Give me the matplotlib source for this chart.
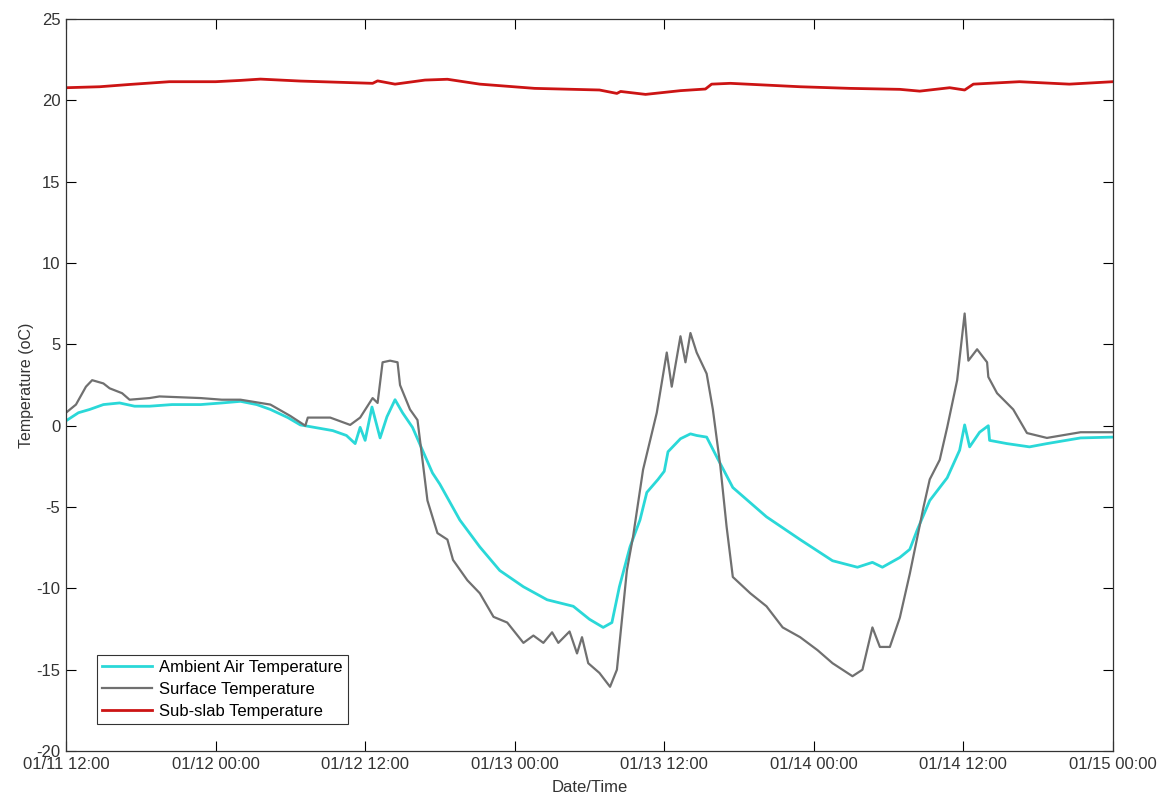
import matplotlib
matplotlib.use("Agg")
import matplotlib.pyplot as plt

plt.rcParams['font.family'] = ['Liberation Sans', 'DejaVu Sans']
plt.rcParams['axes.unicode_minus'] = False

# hours since 01/11 12:00
ambient_h = [0.0, 1.0, 1.9, 3.0, 4.3, 5.5, 6.7, 8.5, 10.8, 12.5, 14.0, 15.3, 16.4, 17.8,
             18.8, 21.4, 22.5, 23.2, 23.6, 24.0, 24.55, 25.2, 25.75, 26.4, 27.0, 27.8,
             28.6, 29.4, 30.0, 31.6, 33.2, 34.8, 36.7, 38.6, 40.7, 42.0, 43.1, 43.8,
             44.4, 45.25, 46.05, 46.6, 47.5, 48.0, 48.3, 49.3, 50.1, 50.6, 51.4, 52.2,
             53.5, 56.2, 58.9, 61.5, 63.5, 64.7, 65.5, 66.9, 67.7, 68.3, 69.3, 70.7,
             71.7, 72.1, 72.5, 73.3, 74.0, 74.1, 75.5, 77.3, 78.7, 81.4, 84.0]
ambient_t = [0.3, 0.8, 1.0, 1.3, 1.4, 1.2, 1.2, 1.3, 1.3, 1.4, 1.5, 1.3, 1.0, 0.5,
             0.05, -0.3, -0.6, -1.1, -0.1, -0.9, 1.15, -0.75, 0.55, 1.6, 0.8, -0.1,
             -1.5, -2.9, -3.6, -5.8, -7.45, -8.9, -9.9, -10.7, -11.1, -11.9, -12.4, -12.1,
             -9.9, -7.45, -5.8, -4.1, -3.3, -2.8, -1.6, -0.8, -0.5, -0.6, -0.7, -1.9,
             -3.8, -5.6, -7.0, -8.3, -8.7, -8.4, -8.7, -8.1, -7.6, -6.4, -4.6, -3.2,
             -1.5, 0.05, -1.3, -0.4, 0.0, -0.9, -1.1, -1.3, -1.1, -0.75, -0.7]

surface_h = [0.0, 0.8, 1.6, 2.1, 3.0, 3.5, 4.5, 5.1, 6.7, 7.5, 10.8, 12.5, 14.0, 16.4,
             18.0, 19.2, 19.4, 21.2, 22.8, 23.6, 24.6, 25.0, 25.4, 26.0, 26.6, 26.8,
             27.6, 28.2, 28.6, 29.0, 29.8, 30.6, 31.05, 32.2, 33.2, 34.3, 35.4, 36.7,
             37.5, 38.3, 39.0, 39.5, 40.4, 41.0, 41.4, 41.9, 42.8, 43.65, 44.2, 45.0,
             45.5, 46.3, 47.4, 48.2, 48.6, 49.3, 49.7, 50.1, 50.6, 51.4, 51.9, 52.5,
             53.0, 53.5, 54.9, 56.2, 57.5, 58.9, 60.3, 61.5, 63.1, 63.9, 64.7, 65.3,
             66.1, 66.9, 67.7, 68.8, 69.3, 70.1, 70.7, 71.5, 72.1, 72.4, 73.1, 73.9,
             74.0, 74.7, 76.0, 77.1, 78.7, 81.4, 84.0]
surface_t = [0.8, 1.3, 2.4, 2.8, 2.6, 2.3, 2.0, 1.6, 1.7, 1.8, 1.7, 1.6, 1.6, 1.3,
             0.6, 0.0, 0.5, 0.5, 0.05, 0.5, 1.7, 1.4, 3.9, 4.0, 3.9, 2.5,
             1.0, 0.35, -2.1, -4.6, -6.6, -7.0, -8.25, -9.5, -10.3, -11.75, -12.1, -13.35,
             -12.9, -13.35, -12.7, -13.35, -12.65, -14.0, -13.0, -14.6, -15.2, -16.05, -15.0, -8.9,
             -6.8, -2.7, 0.8, 4.5, 2.4, 5.5, 3.9, 5.7, 4.5, 3.2, 1.0, -2.5,
             -6.2, -9.3, -10.3, -11.1, -12.4, -13.0, -13.8, -14.6, -15.4, -15.0, -12.4, -13.6,
             -13.6, -11.8, -9.1, -5.0, -3.3, -2.1, -0.1, 2.8, 6.9, 4.0, 4.7, 3.9,
             3.0, 2.0, 1.0, -0.45, -0.75, -0.4, -0.4]

subslab_h = [0.0, 2.7, 5.1, 8.3, 12.0, 14.0, 15.6, 18.8, 24.6, 25.0, 26.4, 28.8, 30.6,
             33.2, 37.6, 42.8, 44.2, 44.5, 46.5, 49.3, 51.3, 51.8, 53.3, 58.9, 62.9,
             66.9, 68.5, 70.9, 72.1, 72.8, 75.0, 76.5, 80.5, 84.0]
subslab_t = [20.78, 20.84, 20.98, 21.15, 21.15, 21.23, 21.31, 21.19, 21.05, 21.2, 21.0, 21.25, 21.3,
             21.0, 20.74, 20.64, 20.43, 20.55, 20.37, 20.6, 20.7, 21.0, 21.05, 20.84, 20.74,
             20.68, 20.57, 20.78, 20.64, 21.0, 21.09, 21.15, 21.0, 21.15]

tick_hours = [0, 12, 24, 36, 48, 60, 72, 84]
tick_labels = ['01/11 12:00', '01/12 00:00', '01/12 12:00', '01/13 00:00',
               '01/13 12:00', '01/14 00:00', '01/14 12:00', '01/15 00:00']
y_ticks = [-20, -15, -10, -5, 0, 5, 10, 15, 20, 25]

fig = plt.figure(figsize=(11.62, 7.95), dpi=100)
ax = fig.add_axes([0.0568, 0.0553, 0.901, 0.9207])

ax.plot(ambient_h, ambient_t, color='#2ad8d8', lw=2.0, label='Ambient Air Temperature')
ax.plot(surface_h, surface_t, color='#707070', lw=1.6, label='Surface Temperature')
ax.plot(subslab_h, subslab_t, color='#cc1414', lw=2.0, label='Sub-slab Temperature')

ax.set_xlim(0, 84)
ax.set_ylim(-20, 25)
ax.set_xticks(tick_hours)
ax.set_xticklabels(tick_labels)
ax.set_yticks(y_ticks)
ax.tick_params(direction='in', length=7, width=0.8, top=True, right=True,
               labelsize=12, labelcolor='#333333', pad=4)
for s in ax.spines.values():
    s.set_linewidth(0.9)
    s.set_color('#333333')

ax.set_xlabel('Date/Time', fontsize=12, color='#333333', labelpad=6)
ax.set_ylabel('Temperature (oC)', fontsize=11.5, color='#333333', labelpad=2)

leg = ax.legend(loc='lower left', bbox_to_anchor=(0.03, 0.037), fontsize=12,
                frameon=True, fancybox=False, handlelength=3.0, handletextpad=0.4,
                borderpad=0.3, labelspacing=0.42, borderaxespad=0)
leg.get_frame().set_edgecolor('black')
leg.get_frame().set_linewidth(0.8)

fig.savefig('out.png', dpi=100)
